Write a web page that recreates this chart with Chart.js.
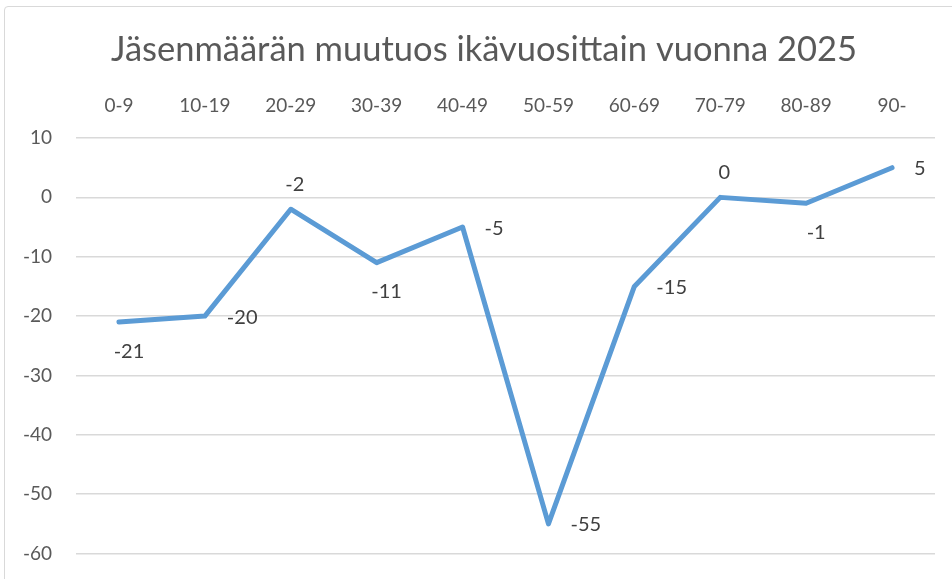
<!DOCTYPE html>
<html>
<head>
<meta charset="utf-8">
<script src="https://cdn.jsdelivr.net/npm/chart.js@4.4.1/dist/chart.umd.min.js"></script>
<style>
  html, body { margin: 0; padding: 0; background: #fff; overflow: hidden; }
  #frame {
    position: absolute; left: 4px; top: 6px; width: 1000px; height: 700px;
    border: 1.5px solid #d9d9d9; border-radius: 4px; box-sizing: border-box;
  }
  #wrap { position: absolute; left: 0; top: 0; width: 952px; height: 579px; overflow: hidden; }
</style>
</head>
<body>
<div id="frame"></div>
<div id="wrap"><canvas id="myChartLine" width="952" height="589"></canvas></div>
<script>
// data
const ageGroups = ["0-9", "10-19", "20-29", "30-39", "40-49", "50-59", "60-69", "70-79", "80-89", "90-"];
const memberChange = [-21, -20, -2, -11, -5, -55, -15, 0, -1, 5];
const yTicks = [10, 0, -10, -20, -30, -40, -50, -60];
// where each value label sits relative to its point
const labelPlace = ["below", "right", "above", "below", "right", "right", "right", "above", "below", "right"];
const chartTitle = "Jäsenmäärän muutuos ikävuosittain vuonna 2025";

const FONT = "Lato, 'Open Sans', sans-serif";

// title drawn by hand so it can sit centred on the whole frame
const frameTitle = {
  id: "frameTitle",
  afterDraw(chart) {
    const c = chart.ctx;
    c.save();
    c.font = "34.5px " + FONT;
    c.fillStyle = "#595959";
    c.textAlign = "center";
    c.textBaseline = "middle";
    c.fillText(chartTitle, 484, 50);
    c.restore();
  }
};

// simple value labels, no datalabels plugin available offline
const valueLabels = {
  id: "valueLabels",
  afterDatasetsDraw(chart) {
    const c = chart.ctx;
    const meta = chart.getDatasetMeta(0);
    c.save();
    c.font = "20px " + FONT;
    c.fillStyle = "#404040";
    meta.data.forEach(function (pt, i) {
      const txt = String(memberChange[i]);
      const place = labelPlace[i];
      if (place == "right") {
        c.textAlign = "left";
        c.textBaseline = "middle";
        c.fillText(txt, pt.x + 22, pt.y + 1);
      } else if (place == "above") {
        c.textAlign = "center";
        c.textBaseline = "middle";
        c.fillText(txt, pt.x + 4, pt.y - 25);
      } else {
        c.textAlign = "center";
        c.textBaseline = "middle";
        c.fillText(txt, pt.x + 10, pt.y + 29);
      }
    });
    c.restore();
  }
};

const ctx = document.getElementById("myChartLine").getContext("2d");
const myChartLine = new Chart(ctx, {
  type: "line",
  data: {
    labels: ageGroups,
    datasets: [
      {
        label: "Muutos",
        data: memberChange,
        borderColor: "#5B9BD5",
        backgroundColor: "#5B9BD5",
        borderWidth: 5,
        pointRadius: 0,
        tension: 0,
        borderJoinStyle: "round",
        borderCapStyle: "round",
      },
    ],
  },
  options: {
    responsive: false,
    animation: false,
    layout: { padding: { left: 0, right: 17, top: 78, bottom: 14 } },
    plugins: {
      legend: { display: false },
      tooltip: { enabled: false },
      title: { display: false },
    },
    scales: {
      x: {
        position: "top",
        offset: true,
        grid: { display: false, drawTicks: false },
        border: { display: false },
        ticks: {
          color: "#595959",
          font: { family: FONT, size: 19 },
          padding: 21,
          maxRotation: 0,
          autoSkip: false,
        },
        afterFit(scale) { scale.height = 60; },
      },
      y: {
        min: -60,
        max: 10,
        afterBuildTicks(scale) { scale.ticks = yTicks.map(function (v) { return { value: v }; }); },
        grid: { color: "#d9d9d9", lineWidth: 1.5, drawTicks: false },
        border: { display: false },
        ticks: {
          color: "#595959",
          font: { family: FONT, size: 19 },
          padding: 24,
        },
        afterFit(scale) { scale.width = 76; },
      },
    },
  },
  plugins: [valueLabels, frameTitle],
});
</script>
</body>
</html>
